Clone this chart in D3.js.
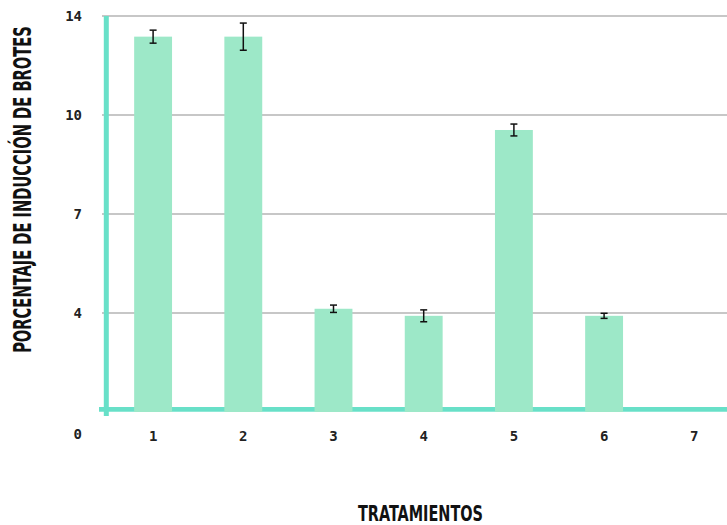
<!DOCTYPE html>
<html>
<head>
<meta charset="utf-8">
<script src="https://cdn.jsdelivr.net/npm/d3@7"></script>
<style>
  body { margin: 0; background: #fff; }
  svg { display: block; }
</style>
</head>
<body>
<svg id="chart" width="727" height="525"></svg>
<script>
// data
const categories = ['1', '2', '3', '4', '5', '6', '7'];
const means = [13.27, 13.27, 3.65, 3.4, 9.97, 3.4, null];
const errors = [0.23, 0.48, 0.13, 0.21, 0.21, 0.09, null];
const yTicks = [0, 3.5, 7, 10.5, 14];
const yTickLabels = ['0', '4', '7', '10', '14'];

const titleFont = '"Liberation Sans Narrow", "DejaVu Sans Condensed", sans-serif';
const tickFont = '"DejaVu Sans Mono", monospace';

document.addEventListener('DOMContentLoaded', function () {
    drawChart();
});

function drawChart() {
    const svg = d3.select('#chart');

    const x = d3.scaleBand()
        .domain(categories)
        .range([108, 739.4])
        .paddingInner(0.58)
        .paddingOuter(0.29);

    const y = d3.scaleLinear()
        .domain([0, 14])
        .range([412, 16]);

    // gridlines
    svg.append('g')
        .selectAll('line')
        .data(yTicks.filter(d => d > 0))
        .enter()
        .append('line')
        .attr('x1', 102)
        .attr('x2', 727)
        .attr('y1', d => y(d))
        .attr('y2', d => y(d))
        .attr('stroke', '#b4b4b4')
        .attr('stroke-width', 1.6);

    // axis lines (thick teal)
    svg.append('line')
        .attr('x1', 106.3).attr('x2', 106.3)
        .attr('y1', y(14)).attr('y2', 416)
        .attr('stroke', '#68e0c8')
        .attr('stroke-width', 5);

    svg.append('line')
        .attr('x1', 99).attr('x2', 727)
        .attr('y1', 409.3).attr('y2', 409.3)
        .attr('stroke', '#68e0c8')
        .attr('stroke-width', 4.7);

    const rows = categories.map((c, i) => ({ key: c, mean: means[i], err: errors[i] }))
        .filter(d => d.mean != null);

    // bars
    svg.append('g')
        .selectAll('rect')
        .data(rows)
        .enter()
        .append('rect')
        .attr('x', d => x(d.key))
        .attr('width', x.bandwidth())
        .attr('y', d => y(d.mean))
        .attr('height', d => y(0) - y(d.mean))
        .attr('fill', '#9de8c8');

    // error bars
    const eb = svg.append('g')
        .attr('stroke', '#111')
        .attr('stroke-width', 1.5);
    rows.forEach(d => {
        const cx = x(d.key) + x.bandwidth() / 2;
        eb.append('line')
            .attr('x1', cx).attr('x2', cx)
            .attr('y1', y(d.mean + d.err)).attr('y2', y(d.mean - d.err));
        eb.append('line')
            .attr('x1', cx - 3.5).attr('x2', cx + 3.5)
            .attr('y1', y(d.mean + d.err)).attr('y2', y(d.mean + d.err));
        eb.append('line')
            .attr('x1', cx - 3.5).attr('x2', cx + 3.5)
            .attr('y1', y(d.mean - d.err)).attr('y2', y(d.mean - d.err));
    });

    // y tick labels (the 0 sits down on the category row)
    svg.append('g')
        .selectAll('text')
        .data(yTicks)
        .enter()
        .append('text')
        .attr('x', 82)
        .attr('y', d => d === 0 ? 439 : y(d) + 5)
        .attr('text-anchor', 'end')
        .attr('font-family', tickFont)
        .attr('font-weight', 'bold')
        .attr('font-size', 14)
        .attr('fill', '#222')
        .text((d, i) => yTickLabels[i]);

    // x tick labels
    svg.append('g')
        .selectAll('text')
        .data(categories)
        .enter()
        .append('text')
        .attr('x', d => x(d) + x.bandwidth() / 2)
        .attr('y', 441)
        .attr('text-anchor', 'middle')
        .attr('font-family', tickFont)
        .attr('font-weight', 'bold')
        .attr('font-size', 14)
        .attr('fill', '#222')
        .text(d => d);

    // axis titles
    const yTitle = svg.append('text')
        .attr('text-anchor', 'middle')
        .attr('font-family', titleFont)
        .attr('font-weight', 'bold')
        .attr('font-size', 24)
        .attr('fill', '#111')
        .text('PORCENTAJE DE INDUCCIÓN DE BROTES');
    // squeeze it to the length seen in the reference (~327px)
    const natural = yTitle.node().getComputedTextLength();
    const sx = Math.min(1, 327 / natural);
    yTitle.attr('transform', `translate(31,189.5) rotate(-90) scale(${sx},1)`);

    svg.append('text')
        .attr('x', 420.5)
        .attr('y', 520.5)
        .attr('text-anchor', 'middle')
        .attr('font-family', titleFont)
        .attr('font-weight', 'bold')
        .attr('font-size', 22)
        .attr('textLength', 125)
        .attr('lengthAdjust', 'spacingAndGlyphs')
        .attr('fill', '#111')
        .text('TRATAMIENTOS');
}
</script>
</body>
</html>
